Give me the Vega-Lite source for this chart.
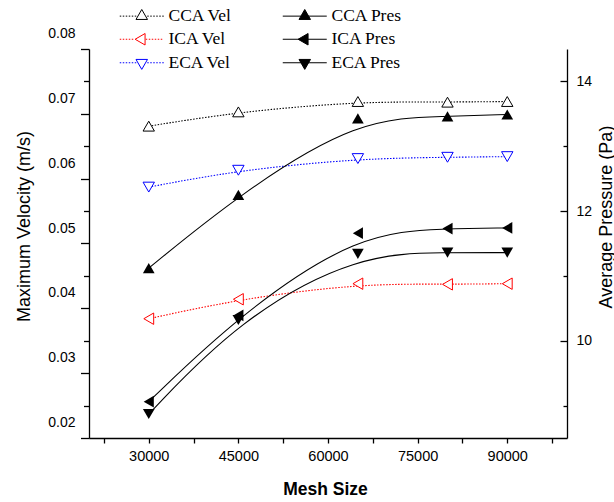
{
  "$schema": "https://vega.github.io/schema/vega-lite/v6.json",
  "width": 478,
  "height": 389,
  "autosize": {"type": "none"},
  "padding": {"left": 89, "top": 49, "right": 47, "bottom": 64},
  "background": "white",
  "config": {
    "view": {"stroke": null},
    "font": "Liberation Sans",
    "axis": {
      "grid": false,
      "domainColor": "black",
      "tickColor": "black",
      "domainWidth": 1.3,
      "tickWidth": 1.3,
      "labelColor": "black",
      "titleColor": "black",
      "labelFont": "Liberation Sans",
      "titleFont": "Liberation Sans",
      "labelOverlap": false,
      "labelFlush": false,
      "labelBound": false,
      "titleFontWeight": "normal"
    }
  },
  "datasets": {
    "vel": [
      {"series": "CCA Vel", "mesh": 30000, "vel": 0.0681},
      {"series": "CCA Vel", "mesh": 45000, "vel": 0.0703},
      {"series": "CCA Vel", "mesh": 65000, "vel": 0.0719},
      {"series": "CCA Vel", "mesh": 80000, "vel": 0.0718},
      {"series": "CCA Vel", "mesh": 90000, "vel": 0.0719},
      {"series": "ICA Vel", "mesh": 30000, "vel": 0.0384},
      {"series": "ICA Vel", "mesh": 45000, "vel": 0.0414},
      {"series": "ICA Vel", "mesh": 65000, "vel": 0.0438},
      {"series": "ICA Vel", "mesh": 80000, "vel": 0.0437},
      {"series": "ICA Vel", "mesh": 90000, "vel": 0.0438},
      {"series": "ECA Vel", "mesh": 30000, "vel": 0.0587},
      {"series": "ECA Vel", "mesh": 45000, "vel": 0.0613},
      {"series": "ECA Vel", "mesh": 65000, "vel": 0.0631},
      {"series": "ECA Vel", "mesh": 80000, "vel": 0.0633},
      {"series": "ECA Vel", "mesh": 90000, "vel": 0.0634}
    ],
    "pres": [
      {"series": "CCA Pres", "mesh": 30000, "pres": 11.12},
      {"series": "CCA Pres", "mesh": 45000, "pres": 12.25},
      {"series": "CCA Pres", "mesh": 65000, "pres": 13.43},
      {"series": "CCA Pres", "mesh": 80000, "pres": 13.46},
      {"series": "CCA Pres", "mesh": 90000, "pres": 13.49},
      {"series": "ICA Pres", "mesh": 30000, "pres": 9.06},
      {"series": "ICA Pres", "mesh": 45000, "pres": 10.39},
      {"series": "ICA Pres", "mesh": 65000, "pres": 11.66},
      {"series": "ICA Pres", "mesh": 80000, "pres": 11.73},
      {"series": "ICA Pres", "mesh": 90000, "pres": 11.74},
      {"series": "ECA Pres", "mesh": 30000, "pres": 8.87},
      {"series": "ECA Pres", "mesh": 45000, "pres": 10.32},
      {"series": "ECA Pres", "mesh": 65000, "pres": 11.34},
      {"series": "ECA Pres", "mesh": 80000, "pres": 11.36},
      {"series": "ECA Pres", "mesh": 90000, "pres": 11.36}
    ],
    "legendrows": [
      {"series": "CCA Vel"},
      {"series": "ICA Vel"},
      {"series": "ECA Vel"},
      {"series": "CCA Pres"},
      {"series": "ICA Pres"},
      {"series": "ECA Pres"}
    ]
  },
  "layer": [
    {
      "data": {"name": "vel"},
      "layer": [
        {
          "mark": {"type": "line", "interpolate": "basis", "strokeDash": [1.5, 1.5], "strokeWidth": 1.1},
          "encoding": {
            "x": {"field": "mesh", "type": "quantitative", "scale": {"domain": [20000, 100000], "nice": false, "zero": false},
              "axis": {"title": "Mesh Size", "values": [22500, 30000, 37500, 45000, 52500, 60000, 67500, 75000, 82500, 90000, 97500], "labelExpr": "datum.value % 15000 === 0 ? format(datum.value, 'd') : ''", "tickSize": 5, "labelPadding": 6, "labelFontSize": 14.5, "titleFontSize": 17.5, "titleFontWeight": "bold", "titleX": 236, "titleY": 51.5, "titleBaseline": "middle", "titleAlign": "center"}},
            "y": {"field": "vel", "type": "quantitative", "scale": {"domain": [0.02, 0.08], "nice": false, "zero": false},
              "axis": {"orient": "left", "title": "Maximum Velocity (m/s)", "values": [0.02, 0.025, 0.03, 0.035, 0.04, 0.045, 0.05, 0.055, 0.06, 0.065, 0.07, 0.075, 0.08], "labelExpr": "round(datum.value*1000) % 10 === 0 ? format(datum.value, '.2f') : ''", "tickSize": {"condition": {"test": "round(datum.value*1000) % 10 === 0", "value": 8.5}, "value": 5.5}, "labelPadding": 5.5, "labelOffset": -15.5, "labelFontSize": 14, "titleFontSize": 18, "titleAngle": 270, "titleX": -65, "titleY": 177, "titleBaseline": "middle", "titleAlign": "center"}},
            "color": {"field": "series", "type": "nominal", "scale": {"domain": ["CCA Vel", "ICA Vel", "ECA Vel"], "range": ["#000000", "#ff0000", "#0000ff"]}, "legend": null}
          }
        },
        {
          "mark": {"type": "point", "filled": true, "fill": "white", "size": 130, "strokeWidth": 1, "opacity": 1},
          "encoding": {
            "x": {"field": "mesh", "type": "quantitative", "scale": {"domain": [20000, 100000], "nice": false, "zero": false},
              "axis": {"title": "Mesh Size", "values": [22500, 30000, 37500, 45000, 52500, 60000, 67500, 75000, 82500, 90000, 97500], "labelExpr": "datum.value % 15000 === 0 ? format(datum.value, 'd') : ''", "tickSize": 5, "labelPadding": 6, "labelFontSize": 14.5, "titleFontSize": 17.5, "titleFontWeight": "bold", "titleX": 236, "titleY": 51.5, "titleBaseline": "middle", "titleAlign": "center"}},
            "y": {"field": "vel", "type": "quantitative", "scale": {"domain": [0.02, 0.08], "nice": false, "zero": false},
              "axis": {"orient": "left", "title": "Maximum Velocity (m/s)", "values": [0.02, 0.025, 0.03, 0.035, 0.04, 0.045, 0.05, 0.055, 0.06, 0.065, 0.07, 0.075, 0.08], "labelExpr": "round(datum.value*1000) % 10 === 0 ? format(datum.value, '.2f') : ''", "tickSize": {"condition": {"test": "round(datum.value*1000) % 10 === 0", "value": 8.5}, "value": 5.5}, "labelPadding": 5.5, "labelOffset": -15.5, "labelFontSize": 14, "titleFontSize": 18, "titleAngle": 270, "titleX": -65, "titleY": 177, "titleBaseline": "middle", "titleAlign": "center"}},
            "shape": {"field": "series", "type": "nominal", "legend": null,
              "scale": {"domain": ["CCA Vel", "ICA Vel", "ECA Vel"], "range": ["triangle-up", "triangle-left", "triangle-down"]}},
            "stroke": {"field": "series", "type": "nominal", "legend": null,
              "scale": {"domain": ["CCA Vel", "ICA Vel", "ECA Vel"], "range": ["#000000", "#ff0000", "#0000ff"]}}
          }
        }
      ]
    },
    {
      "data": {"name": "pres"},
      "layer": [
        {
          "mark": {"type": "line", "interpolate": "basis", "color": "black", "strokeWidth": 1.1},
          "encoding": {
            "x": {"field": "mesh", "type": "quantitative", "scale": {"domain": [20000, 100000], "nice": false, "zero": false},
              "axis": {"title": "Mesh Size", "values": [22500, 30000, 37500, 45000, 52500, 60000, 67500, 75000, 82500, 90000, 97500], "labelExpr": "datum.value % 15000 === 0 ? format(datum.value, 'd') : ''", "tickSize": 5, "labelPadding": 6, "labelFontSize": 14.5, "titleFontSize": 17.5, "titleFontWeight": "bold", "titleX": 236, "titleY": 51.5, "titleBaseline": "middle", "titleAlign": "center"}},
            "y": {"field": "pres", "type": "quantitative", "scale": {"domain": [8.5, 14.5], "nice": false, "zero": false},
              "axis": {"orient": "right", "title": "Average Pressure (Pa)", "values": [9, 10, 11, 12, 13, 14], "labelExpr": "datum.value % 2 === 0 ? datum.label : ''", "tickSize": {"condition": {"test": "datum.value % 2 === 0", "value": -7}, "value": -4}, "labelPadding": 16, "labelFontSize": 14, "titleFontSize": 18, "titleAngle": 270, "titleX": 39, "titleY": 167.5, "titleBaseline": "middle", "titleAlign": "center"}},
            "detail": {"field": "series", "type": "nominal"}
          }
        },
        {
          "mark": {"type": "point", "filled": true, "color": "black", "size": 137, "opacity": 1},
          "encoding": {
            "x": {"field": "mesh", "type": "quantitative", "scale": {"domain": [20000, 100000], "nice": false, "zero": false},
              "axis": {"title": "Mesh Size", "values": [22500, 30000, 37500, 45000, 52500, 60000, 67500, 75000, 82500, 90000, 97500], "labelExpr": "datum.value % 15000 === 0 ? format(datum.value, 'd') : ''", "tickSize": 5, "labelPadding": 6, "labelFontSize": 14.5, "titleFontSize": 17.5, "titleFontWeight": "bold", "titleX": 236, "titleY": 51.5, "titleBaseline": "middle", "titleAlign": "center"}},
            "y": {"field": "pres", "type": "quantitative", "scale": {"domain": [8.5, 14.5], "nice": false, "zero": false},
              "axis": {"orient": "right", "title": "Average Pressure (Pa)", "values": [9, 10, 11, 12, 13, 14], "labelExpr": "datum.value % 2 === 0 ? datum.label : ''", "tickSize": {"condition": {"test": "datum.value % 2 === 0", "value": -7}, "value": -4}, "labelPadding": 16, "labelFontSize": 14, "titleFontSize": 18, "titleAngle": 270, "titleX": 39, "titleY": 167.5, "titleBaseline": "middle", "titleAlign": "center"}},
            "shape": {"field": "series", "type": "nominal", "legend": null,
              "scale": {"domain": ["CCA Pres", "ICA Pres", "ECA Pres"], "range": ["triangle-up", "triangle-left", "triangle-down"]}}
          }
        }
      ]
    },
    {
      "data": {"name": "legendrows"},
      "mark": {"type": "point", "filled": true, "opacity": 0},
      "encoding": {
        "shape": {"field": "series", "type": "nominal",
          "scale": {"domain": ["CCA Vel", "ICA Vel", "ECA Vel", "CCA Pres", "ICA Pres", "ECA Pres"],
            "range": [
              "M-1.8,0h0.3M-1.2,0h0.3M-0.6,0h0.3M0,0h0.3M0.6,0h0.3M1.2,0h0.3M3.7,0h0.3M4.3,0h0.3M4.9,0h0.3M5.5,0h0.3M6.1,0h0.3M6.7,0h0.3M2.6,-1.328L1.45,0.664L3.75,0.664Z",
              "M-1.8,0h0.3M-1.2,0h0.3M-0.6,0h0.3M0,0h0.3M0.6,0h0.3M3.4,0h0.3M4,0h0.3M4.6,0h0.3M5.2,0h0.3M5.8,0h0.3M6.4,0h0.3M1.272,0L3.264,-1.15L3.264,1.15Z",
              "M-1.8,0h0.3M-1.2,0h0.3M-0.6,0h0.3M0,0h0.3M0.6,0h0.3M1.2,0h0.3M3.7,0h0.3M4.3,0h0.3M4.9,0h0.3M5.5,0h0.3M6.1,0h0.3M6.7,0h0.3M2.6,1.328L1.45,-0.664L3.75,-0.664Z",
              "M-1.8,0H7M2.6,-1.328L1.45,0.664L3.75,0.664Z",
              "M-1.8,0H7M1.272,0L3.264,-1.15L3.264,1.15Z",
              "M-1.8,0H7M2.6,1.328L1.45,-0.664L3.75,-0.664Z"
            ]},
          "legend": {"title": null, "orient": "none", "legendX": 31, "legendY": -42, "columns": 2, "columnPadding": 47, "rowPadding": 4.5, "symbolSize": 100, "symbolStrokeWidth": 1, "symbolOpacity": 1, "labelOffset": 31, "labelFont": "Liberation Serif", "labelFontSize": 17.5, "labelColor": "black"}},
        "fill": {"field": "series", "type": "nominal",
          "scale": {"domain": ["CCA Vel", "ICA Vel", "ECA Vel", "CCA Pres", "ICA Pres", "ECA Pres"], "range": ["#ffffff", "#ffffff", "#ffffff", "#000000", "#000000", "#000000"]},
          "legend": {"title": null, "orient": "none", "legendX": 31, "legendY": -42, "columns": 2, "columnPadding": 47, "rowPadding": 4.5, "symbolSize": 100, "symbolStrokeWidth": 1, "symbolOpacity": 1, "labelOffset": 31, "labelFont": "Liberation Serif", "labelFontSize": 17.5, "labelColor": "black"}},
        "stroke": {"field": "series", "type": "nominal",
          "scale": {"domain": ["CCA Vel", "ICA Vel", "ECA Vel", "CCA Pres", "ICA Pres", "ECA Pres"], "range": ["#000000", "#ff0000", "#0000ff", "#000000", "#000000", "#000000"]},
          "legend": {"title": null, "orient": "none", "legendX": 31, "legendY": -42, "columns": 2, "columnPadding": 47, "rowPadding": 4.5, "symbolSize": 100, "symbolStrokeWidth": 1, "symbolOpacity": 1, "labelOffset": 31, "labelFont": "Liberation Serif", "labelFontSize": 17.5, "labelColor": "black"}}
      }
    }
  ],
  "resolve": {"scale": {"y": "independent", "shape": "independent", "stroke": "independent", "fill": "independent"}}
}
